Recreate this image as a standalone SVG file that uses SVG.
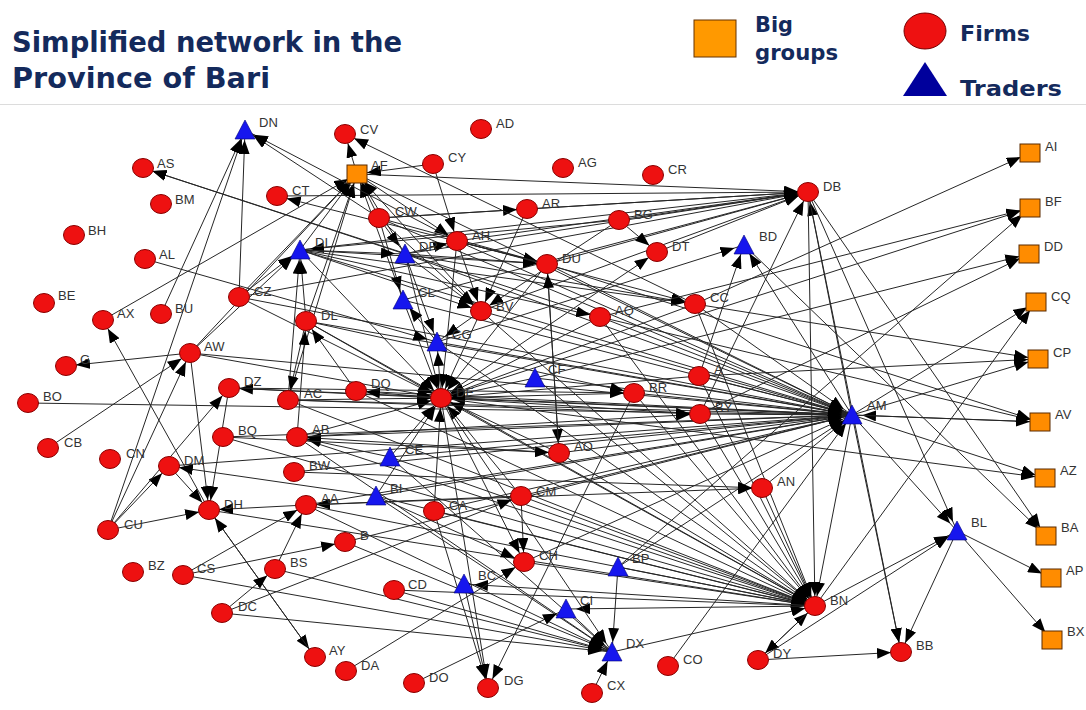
<svg xmlns="http://www.w3.org/2000/svg" width="1086" height="710" viewBox="0 0 1086 710">
<style>
.title{font-family:"DejaVu Sans","Liberation Sans",sans-serif;font-weight:bold;fill:#142a5c}
.leg{font-family:"DejaVu Sans","Liberation Sans",sans-serif;font-weight:bold;fill:#142a5c;font-size:21px}
.firm ellipse{fill:#ee1111;stroke:#8a0000;stroke-width:1}
.trader polygon{fill:#1616ee;stroke:#00007a;stroke-width:0.6}
.group rect{fill:#ff8c00;stroke:#5a2a00;stroke-width:1}
.lbl{font-family:"Liberation Sans",Arial,sans-serif;font-size:13px;fill:#333}
#connectors line{stroke:#262626;stroke-width:1;fill:none;marker-end:url(#ar)}
</style>
<defs>
<marker id="ar" markerUnits="userSpaceOnUse" markerWidth="15" markerHeight="11" refX="24" refY="5.5" orient="auto">
<path d="M0,0 L14,5.5 L0,11 z" fill="#000"/>
</marker>
</defs>
<rect width="1086" height="710" fill="#fff"/>
<g id="header">
<text class="title" x="12" y="52" font-size="29" textLength="390" lengthAdjust="spacingAndGlyphs">Simplified network in the</text>
<text class="title" x="12" y="88" font-size="29" textLength="258" lengthAdjust="spacingAndGlyphs">Province of Bari</text>
<line x1="0" y1="104.5" x2="1086" y2="104.5" stroke="#dcdcdc" stroke-width="1"/>
</g>
<g id="legend">
<rect x="694" y="20" width="42" height="37" fill="#ff9900" stroke="#663300" stroke-width="1"/>
<text class="leg" x="755" y="32" textLength="38" lengthAdjust="spacingAndGlyphs">Big</text>
<text class="leg" x="755" y="60" textLength="83" lengthAdjust="spacingAndGlyphs">groups</text>
<ellipse cx="925" cy="31" rx="21" ry="18" fill="#ee1111" stroke="#770000" stroke-width="1"/>
<text class="leg" x="960" y="41" textLength="70" lengthAdjust="spacingAndGlyphs">Firms</text>
<polygon points="925,62 903,96 947,96" fill="#00009c"/>
<text class="leg" x="960" y="96" textLength="102" lengthAdjust="spacingAndGlyphs">Traders</text>
</g>
<g id="connectors">
<line x1="441" y1="398" x2="852" y2="415"/>
<line x1="634" y1="393" x2="852" y2="415"/>
<line x1="700" y1="414" x2="852" y2="415"/>
<line x1="699" y1="376" x2="852" y2="415"/>
<line x1="535" y1="378" x2="852" y2="415"/>
<line x1="559" y1="453" x2="852" y2="415"/>
<line x1="521" y1="496" x2="852" y2="415"/>
<line x1="434" y1="511" x2="852" y2="415"/>
<line x1="306" y1="505" x2="852" y2="415"/>
<line x1="297" y1="437" x2="852" y2="415"/>
<line x1="288" y1="400" x2="852" y2="415"/>
<line x1="356" y1="391" x2="852" y2="415"/>
<line x1="390" y1="457" x2="852" y2="415"/>
<line x1="376" y1="496" x2="852" y2="415"/>
<line x1="524" y1="562" x2="852" y2="415"/>
<line x1="229" y1="388" x2="852" y2="415"/>
<line x1="190" y1="353" x2="852" y2="415"/>
<line x1="223" y1="437" x2="852" y2="415"/>
<line x1="28" y1="403" x2="852" y2="415"/>
<line x1="306" y1="321" x2="852" y2="415"/>
<line x1="239" y1="297" x2="852" y2="415"/>
<line x1="437" y1="342" x2="852" y2="415"/>
<line x1="481" y1="311" x2="852" y2="415"/>
<line x1="547" y1="264" x2="852" y2="415"/>
<line x1="600" y1="317" x2="852" y2="415"/>
<line x1="695" y1="304" x2="852" y2="415"/>
<line x1="457" y1="241" x2="852" y2="415"/>
<line x1="405" y1="254" x2="852" y2="415"/>
<line x1="300" y1="250" x2="852" y2="415"/>
<line x1="403" y1="300" x2="852" y2="415"/>
<line x1="379" y1="218" x2="852" y2="415"/>
<line x1="357" y1="174" x2="852" y2="415"/>
<line x1="1040" y1="422" x2="852" y2="415"/>
<line x1="668" y1="666" x2="852" y2="415"/>
<line x1="169" y1="466" x2="852" y2="415"/>
<line x1="294" y1="472" x2="852" y2="415"/>
<line x1="345" y1="542" x2="852" y2="415"/>
<line x1="618" y1="567" x2="852" y2="415"/>
<line x1="762" y1="488" x2="852" y2="415"/>
<line x1="852" y1="415" x2="1036" y2="302"/>
<line x1="852" y1="415" x2="1038" y2="359"/>
<line x1="852" y1="415" x2="1040" y2="422"/>
<line x1="852" y1="415" x2="1045" y2="478"/>
<line x1="852" y1="415" x2="957" y2="531"/>
<line x1="852" y1="415" x2="808" y2="192"/>
<line x1="852" y1="415" x2="815" y2="606"/>
<line x1="852" y1="415" x2="901" y2="652"/>
<line x1="852" y1="415" x2="744" y2="245"/>
<line x1="441" y1="398" x2="815" y2="606"/>
<line x1="634" y1="393" x2="815" y2="606"/>
<line x1="700" y1="414" x2="815" y2="606"/>
<line x1="535" y1="378" x2="815" y2="606"/>
<line x1="559" y1="453" x2="815" y2="606"/>
<line x1="521" y1="496" x2="815" y2="606"/>
<line x1="434" y1="511" x2="815" y2="606"/>
<line x1="306" y1="505" x2="815" y2="606"/>
<line x1="297" y1="437" x2="815" y2="606"/>
<line x1="288" y1="400" x2="815" y2="606"/>
<line x1="356" y1="391" x2="815" y2="606"/>
<line x1="390" y1="457" x2="815" y2="606"/>
<line x1="376" y1="496" x2="815" y2="606"/>
<line x1="524" y1="562" x2="815" y2="606"/>
<line x1="762" y1="488" x2="815" y2="606"/>
<line x1="699" y1="376" x2="815" y2="606"/>
<line x1="481" y1="311" x2="815" y2="606"/>
<line x1="437" y1="342" x2="815" y2="606"/>
<line x1="306" y1="321" x2="815" y2="606"/>
<line x1="600" y1="317" x2="815" y2="606"/>
<line x1="808" y1="192" x2="815" y2="606"/>
<line x1="758" y1="660" x2="815" y2="606"/>
<line x1="394" y1="590" x2="815" y2="606"/>
<line x1="209" y1="510" x2="815" y2="606"/>
<line x1="223" y1="437" x2="815" y2="606"/>
<line x1="612" y1="652" x2="815" y2="606"/>
<line x1="618" y1="567" x2="815" y2="606"/>
<line x1="695" y1="304" x2="815" y2="606"/>
<line x1="815" y1="606" x2="1036" y2="302"/>
<line x1="815" y1="606" x2="957" y2="531"/>
<line x1="815" y1="606" x2="758" y2="660"/>
<line x1="815" y1="606" x2="566" y2="609"/>
<line x1="815" y1="606" x2="464" y2="584"/>
<line x1="288" y1="400" x2="441" y2="398"/>
<line x1="481" y1="311" x2="441" y2="398"/>
<line x1="403" y1="300" x2="441" y2="398"/>
<line x1="405" y1="254" x2="441" y2="398"/>
<line x1="300" y1="250" x2="441" y2="398"/>
<line x1="306" y1="321" x2="441" y2="398"/>
<line x1="239" y1="297" x2="441" y2="398"/>
<line x1="190" y1="353" x2="441" y2="398"/>
<line x1="297" y1="437" x2="441" y2="398"/>
<line x1="390" y1="457" x2="441" y2="398"/>
<line x1="634" y1="393" x2="441" y2="398"/>
<line x1="600" y1="317" x2="441" y2="398"/>
<line x1="695" y1="304" x2="441" y2="398"/>
<line x1="547" y1="264" x2="441" y2="398"/>
<line x1="457" y1="241" x2="441" y2="398"/>
<line x1="535" y1="378" x2="441" y2="398"/>
<line x1="700" y1="414" x2="441" y2="398"/>
<line x1="699" y1="376" x2="441" y2="398"/>
<line x1="434" y1="511" x2="441" y2="398"/>
<line x1="559" y1="453" x2="441" y2="398"/>
<line x1="521" y1="496" x2="441" y2="398"/>
<line x1="376" y1="496" x2="441" y2="398"/>
<line x1="441" y1="398" x2="1045" y2="478"/>
<line x1="441" y1="398" x2="1030" y2="208"/>
<line x1="441" y1="398" x2="657" y2="252"/>
<line x1="441" y1="398" x2="488" y2="688"/>
<line x1="441" y1="398" x2="612" y2="652"/>
<line x1="441" y1="398" x2="229" y2="388"/>
<line x1="441" y1="398" x2="524" y2="562"/>
<line x1="441" y1="398" x2="437" y2="342"/>
<line x1="441" y1="398" x2="356" y2="391"/>
<line x1="277" y1="196" x2="808" y2="192"/>
<line x1="527" y1="209" x2="808" y2="192"/>
<line x1="619" y1="220" x2="808" y2="192"/>
<line x1="357" y1="174" x2="808" y2="192"/>
<line x1="547" y1="264" x2="808" y2="192"/>
<line x1="405" y1="254" x2="808" y2="192"/>
<line x1="457" y1="241" x2="808" y2="192"/>
<line x1="300" y1="250" x2="808" y2="192"/>
<line x1="379" y1="218" x2="808" y2="192"/>
<line x1="700" y1="414" x2="808" y2="192"/>
<line x1="403" y1="300" x2="808" y2="192"/>
<line x1="239" y1="297" x2="808" y2="192"/>
<line x1="657" y1="252" x2="808" y2="192"/>
<line x1="481" y1="311" x2="808" y2="192"/>
<line x1="808" y1="192" x2="1046" y2="536"/>
<line x1="808" y1="192" x2="901" y2="652"/>
<line x1="808" y1="192" x2="957" y2="531"/>
<line x1="957" y1="531" x2="1051" y2="578"/>
<line x1="957" y1="531" x2="1052" y2="640"/>
<line x1="957" y1="531" x2="901" y2="652"/>
<line x1="758" y1="660" x2="957" y2="531"/>
<line x1="394" y1="590" x2="612" y2="652"/>
<line x1="222" y1="613" x2="612" y2="652"/>
<line x1="183" y1="575" x2="612" y2="652"/>
<line x1="275" y1="569" x2="612" y2="652"/>
<line x1="390" y1="457" x2="612" y2="652"/>
<line x1="376" y1="496" x2="612" y2="652"/>
<line x1="566" y1="609" x2="612" y2="652"/>
<line x1="618" y1="567" x2="612" y2="652"/>
<line x1="592" y1="693" x2="612" y2="652"/>
<line x1="306" y1="505" x2="612" y2="652"/>
<line x1="345" y1="542" x2="612" y2="652"/>
<line x1="297" y1="437" x2="612" y2="652"/>
<line x1="379" y1="218" x2="357" y2="174"/>
<line x1="300" y1="250" x2="357" y2="174"/>
<line x1="239" y1="297" x2="357" y2="174"/>
<line x1="306" y1="321" x2="357" y2="174"/>
<line x1="405" y1="254" x2="357" y2="174"/>
<line x1="403" y1="300" x2="357" y2="174"/>
<line x1="433" y1="164" x2="357" y2="174"/>
<line x1="190" y1="353" x2="357" y2="174"/>
<line x1="288" y1="400" x2="357" y2="174"/>
<line x1="481" y1="311" x2="357" y2="174"/>
<line x1="103" y1="320" x2="357" y2="174"/>
<line x1="357" y1="174" x2="345" y2="134"/>
<line x1="357" y1="174" x2="457" y2="241"/>
<line x1="433" y1="164" x2="457" y2="241"/>
<line x1="379" y1="218" x2="527" y2="209"/>
<line x1="379" y1="218" x2="405" y2="254"/>
<line x1="379" y1="218" x2="403" y2="300"/>
<line x1="379" y1="218" x2="481" y2="311"/>
<line x1="379" y1="218" x2="547" y2="264"/>
<line x1="379" y1="218" x2="245" y2="130"/>
<line x1="527" y1="209" x2="481" y2="311"/>
<line x1="619" y1="220" x2="657" y2="252"/>
<line x1="619" y1="220" x2="481" y2="311"/>
<line x1="619" y1="220" x2="300" y2="250"/>
<line x1="405" y1="254" x2="143" y2="168"/>
<line x1="600" y1="317" x2="143" y2="168"/>
<line x1="405" y1="254" x2="481" y2="311"/>
<line x1="405" y1="254" x2="695" y2="304"/>
<line x1="405" y1="254" x2="437" y2="342"/>
<line x1="405" y1="254" x2="547" y2="264"/>
<line x1="405" y1="254" x2="457" y2="241"/>
<line x1="300" y1="250" x2="547" y2="264"/>
<line x1="300" y1="250" x2="695" y2="304"/>
<line x1="300" y1="250" x2="600" y2="317"/>
<line x1="300" y1="250" x2="481" y2="311"/>
<line x1="300" y1="250" x2="405" y2="254"/>
<line x1="239" y1="297" x2="300" y2="250"/>
<line x1="306" y1="321" x2="300" y2="250"/>
<line x1="288" y1="400" x2="300" y2="250"/>
<line x1="190" y1="353" x2="300" y2="250"/>
<line x1="457" y1="241" x2="547" y2="264"/>
<line x1="457" y1="241" x2="481" y2="311"/>
<line x1="457" y1="241" x2="695" y2="304"/>
<line x1="457" y1="241" x2="245" y2="130"/>
<line x1="695" y1="304" x2="345" y2="134"/>
<line x1="695" y1="304" x2="1030" y2="153"/>
<line x1="695" y1="304" x2="1038" y2="359"/>
<line x1="600" y1="317" x2="1030" y2="208"/>
<line x1="600" y1="317" x2="1040" y2="422"/>
<line x1="535" y1="378" x2="1029" y2="254"/>
<line x1="700" y1="414" x2="1029" y2="254"/>
<line x1="699" y1="376" x2="1038" y2="359"/>
<line x1="547" y1="264" x2="559" y2="453"/>
<line x1="559" y1="453" x2="547" y2="264"/>
<line x1="699" y1="376" x2="744" y2="245"/>
<line x1="437" y1="342" x2="744" y2="245"/>
<line x1="744" y1="245" x2="1046" y2="536"/>
<line x1="634" y1="393" x2="488" y2="688"/>
<line x1="434" y1="511" x2="488" y2="688"/>
<line x1="464" y1="584" x2="488" y2="688"/>
<line x1="521" y1="496" x2="524" y2="562"/>
<line x1="376" y1="496" x2="524" y2="562"/>
<line x1="414" y1="683" x2="566" y2="609"/>
<line x1="346" y1="671" x2="524" y2="562"/>
<line x1="209" y1="510" x2="315" y2="657"/>
<line x1="315" y1="657" x2="209" y2="510"/>
<line x1="222" y1="613" x2="275" y2="569"/>
<line x1="222" y1="613" x2="521" y2="496"/>
<line x1="183" y1="575" x2="345" y2="542"/>
<line x1="183" y1="575" x2="306" y2="505"/>
<line x1="275" y1="569" x2="306" y2="505"/>
<line x1="108" y1="530" x2="209" y2="510"/>
<line x1="108" y1="530" x2="169" y2="466"/>
<line x1="108" y1="530" x2="245" y2="130"/>
<line x1="108" y1="530" x2="190" y2="353"/>
<line x1="108" y1="530" x2="229" y2="388"/>
<line x1="169" y1="466" x2="209" y2="510"/>
<line x1="209" y1="510" x2="103" y2="320"/>
<line x1="161" y1="314" x2="245" y2="130"/>
<line x1="239" y1="297" x2="245" y2="130"/>
<line x1="190" y1="353" x2="66" y2="366"/>
<line x1="48" y1="448" x2="190" y2="353"/>
<line x1="190" y1="353" x2="209" y2="510"/>
<line x1="229" y1="388" x2="209" y2="510"/>
<line x1="145" y1="259" x2="437" y2="342"/>
<line x1="758" y1="660" x2="901" y2="652"/>
<line x1="547" y1="264" x2="277" y2="196"/>
<line x1="547" y1="264" x2="1040" y2="422"/>
<line x1="618" y1="567" x2="1030" y2="208"/>
<line x1="376" y1="496" x2="169" y2="466"/>
<line x1="306" y1="505" x2="209" y2="510"/>
<line x1="521" y1="496" x2="306" y2="505"/>
<line x1="390" y1="457" x2="297" y2="437"/>
<line x1="559" y1="453" x2="297" y2="437"/>
<line x1="306" y1="321" x2="288" y2="400"/>
<line x1="297" y1="437" x2="306" y2="321"/>
<line x1="356" y1="391" x2="306" y2="321"/>
<line x1="481" y1="311" x2="437" y2="342"/>
<line x1="437" y1="342" x2="403" y2="300"/>
<line x1="288" y1="400" x2="700" y2="414"/>
<line x1="229" y1="388" x2="634" y2="393"/>
<line x1="306" y1="321" x2="634" y2="393"/>
<line x1="297" y1="437" x2="700" y2="414"/>
<line x1="223" y1="437" x2="559" y2="453"/>
<line x1="294" y1="472" x2="762" y2="488"/>
<line x1="306" y1="505" x2="762" y2="488"/>
</g>
<g id="nodes">
<g id="AS" class="firm"><ellipse cx="143" cy="168" rx="10.5" ry="9.5"/><text class="lbl" x="157" y="168">AS</text></g>
<g id="BM" class="firm"><ellipse cx="161" cy="204" rx="10.5" ry="9.5"/><text class="lbl" x="175" y="204">BM</text></g>
<g id="BH" class="firm"><ellipse cx="74" cy="235" rx="10.5" ry="9.5"/><text class="lbl" x="88" y="235">BH</text></g>
<g id="AL" class="firm"><ellipse cx="145" cy="259" rx="10.5" ry="9.5"/><text class="lbl" x="159" y="259">AL</text></g>
<g id="BE" class="firm"><ellipse cx="44" cy="303" rx="10.5" ry="9.5"/><text class="lbl" x="58" y="300">BE</text></g>
<g id="AX" class="firm"><ellipse cx="103" cy="320" rx="10.5" ry="9.5"/><text class="lbl" x="117" y="318">AX</text></g>
<g id="BU" class="firm"><ellipse cx="161" cy="314" rx="10.5" ry="9.5"/><text class="lbl" x="175" y="313">BU</text></g>
<g id="G" class="firm"><ellipse cx="66" cy="366" rx="10.5" ry="9.5"/><text class="lbl" x="80" y="364">G</text></g>
<g id="AW" class="firm"><ellipse cx="190" cy="353" rx="10.5" ry="9.5"/><text class="lbl" x="204" y="351">AW</text></g>
<g id="BO" class="firm"><ellipse cx="28" cy="403" rx="10.5" ry="9.5"/><text class="lbl" x="43" y="401">BO</text></g>
<g id="DZ" class="firm"><ellipse cx="229" cy="388" rx="10.5" ry="9.5"/><text class="lbl" x="244" y="386">DZ</text></g>
<g id="CB" class="firm"><ellipse cx="48" cy="448" rx="10.5" ry="9.5"/><text class="lbl" x="64" y="447">CB</text></g>
<g id="CN" class="firm"><ellipse cx="110" cy="459" rx="10.5" ry="9.5"/><text class="lbl" x="126" y="458">CN</text></g>
<g id="BQ" class="firm"><ellipse cx="223" cy="437" rx="10.5" ry="9.5"/><text class="lbl" x="238" y="435">BQ</text></g>
<g id="DM" class="firm"><ellipse cx="169" cy="466" rx="10.5" ry="9.5"/><text class="lbl" x="184" y="465">DM</text></g>
<g id="CU" class="firm"><ellipse cx="108" cy="530" rx="10.5" ry="9.5"/><text class="lbl" x="124" y="529">CU</text></g>
<g id="DH" class="firm"><ellipse cx="209" cy="510" rx="10.5" ry="9.5"/><text class="lbl" x="224" y="509">DH</text></g>
<g id="BZ" class="firm"><ellipse cx="133" cy="572" rx="10.5" ry="9.5"/><text class="lbl" x="148" y="570">BZ</text></g>
<g id="CS" class="firm"><ellipse cx="183" cy="575" rx="10.5" ry="9.5"/><text class="lbl" x="197" y="573">CS</text></g>
<g id="DC" class="firm"><ellipse cx="222" cy="613" rx="10.5" ry="9.5"/><text class="lbl" x="238" y="611">DC</text></g>
<g id="BS" class="firm"><ellipse cx="275" cy="569" rx="10.5" ry="9.5"/><text class="lbl" x="290" y="567">BS</text></g>
<g id="AY" class="firm"><ellipse cx="315" cy="657" rx="10.5" ry="9.5"/><text class="lbl" x="329" y="655">AY</text></g>
<g id="DA" class="firm"><ellipse cx="346" cy="671" rx="10.5" ry="9.5"/><text class="lbl" x="361" y="670">DA</text></g>
<g id="B" class="firm"><ellipse cx="345" cy="542" rx="10.5" ry="9.5"/><text class="lbl" x="360" y="540">B</text></g>
<g id="AA" class="firm"><ellipse cx="306" cy="505" rx="10.5" ry="9.5"/><text class="lbl" x="321" y="503">AA</text></g>
<g id="BW" class="firm"><ellipse cx="294" cy="472" rx="10.5" ry="9.5"/><text class="lbl" x="309" y="470">BW</text></g>
<g id="AB" class="firm"><ellipse cx="297" cy="437" rx="10.5" ry="9.5"/><text class="lbl" x="312" y="434">AB</text></g>
<g id="AC" class="firm"><ellipse cx="288" cy="400" rx="10.5" ry="9.5"/><text class="lbl" x="304" y="398">AC</text></g>
<g id="DQ" class="firm"><ellipse cx="356" cy="391" rx="10.5" ry="9.5"/><text class="lbl" x="371" y="388">DQ</text></g>
<g id="CZ" class="firm"><ellipse cx="239" cy="297" rx="10.5" ry="9.5"/><text class="lbl" x="254" y="296">CZ</text></g>
<g id="DL" class="firm"><ellipse cx="306" cy="321" rx="10.5" ry="9.5"/><text class="lbl" x="321" y="320">DL</text></g>
<g id="CT" class="firm"><ellipse cx="277" cy="196" rx="10.5" ry="9.5"/><text class="lbl" x="292" y="195">CT</text></g>
<g id="CV" class="firm"><ellipse cx="345" cy="134" rx="10.5" ry="9.5"/><text class="lbl" x="360" y="134">CV</text></g>
<g id="CW" class="firm"><ellipse cx="379" cy="218" rx="10.5" ry="9.5"/><text class="lbl" x="395" y="216">CW</text></g>
<g id="CY" class="firm"><ellipse cx="433" cy="164" rx="10.5" ry="9.5"/><text class="lbl" x="448" y="162">CY</text></g>
<g id="AD" class="firm"><ellipse cx="481" cy="129" rx="10.5" ry="9.5"/><text class="lbl" x="496" y="128">AD</text></g>
<g id="AH" class="firm"><ellipse cx="457" cy="241" rx="10.5" ry="9.5"/><text class="lbl" x="472" y="240">AH</text></g>
<g id="AR" class="firm"><ellipse cx="527" cy="209" rx="10.5" ry="9.5"/><text class="lbl" x="542" y="208">AR</text></g>
<g id="AG" class="firm"><ellipse cx="563" cy="168" rx="10.5" ry="9.5"/><text class="lbl" x="578" y="167">AG</text></g>
<g id="CR" class="firm"><ellipse cx="653" cy="175" rx="10.5" ry="9.5"/><text class="lbl" x="668" y="174">CR</text></g>
<g id="BG" class="firm"><ellipse cx="619" cy="220" rx="10.5" ry="9.5"/><text class="lbl" x="634" y="219">BG</text></g>
<g id="DT" class="firm"><ellipse cx="657" cy="252" rx="10.5" ry="9.5"/><text class="lbl" x="672" y="251">DT</text></g>
<g id="DU" class="firm"><ellipse cx="547" cy="264" rx="10.5" ry="9.5"/><text class="lbl" x="562" y="263">DU</text></g>
<g id="BV" class="firm"><ellipse cx="481" cy="311" rx="10.5" ry="9.5"/><text class="lbl" x="496" y="311">BV</text></g>
<g id="AQ" class="firm"><ellipse cx="600" cy="317" rx="10.5" ry="9.5"/><text class="lbl" x="615" y="315">AQ</text></g>
<g id="CC" class="firm"><ellipse cx="695" cy="304" rx="10.5" ry="9.5"/><text class="lbl" x="710" y="302">CC</text></g>
<g id="DB" class="firm"><ellipse cx="808" cy="192" rx="10.5" ry="9.5"/><text class="lbl" x="823" y="191">DB</text></g>
<g id="A" class="firm"><ellipse cx="699" cy="376" rx="10.5" ry="9.5"/><text class="lbl" x="714" y="374">A</text></g>
<g id="BR" class="firm"><ellipse cx="634" cy="393" rx="10.5" ry="9.5"/><text class="lbl" x="649" y="392">BR</text></g>
<g id="BY" class="firm"><ellipse cx="700" cy="414" rx="10.5" ry="9.5"/><text class="lbl" x="715" y="412">BY</text></g>
<g id="DF" class="firm"><ellipse cx="441" cy="398" rx="10.5" ry="9.5"/><text class="lbl" x="456" y="397">DF</text></g>
<g id="AO" class="firm"><ellipse cx="559" cy="453" rx="10.5" ry="9.5"/><text class="lbl" x="574" y="451">AO</text></g>
<g id="CM" class="firm"><ellipse cx="521" cy="496" rx="10.5" ry="9.5"/><text class="lbl" x="536" y="496">CM</text></g>
<g id="CA" class="firm"><ellipse cx="434" cy="511" rx="10.5" ry="9.5"/><text class="lbl" x="449" y="510">CA</text></g>
<g id="AN" class="firm"><ellipse cx="762" cy="488" rx="10.5" ry="9.5"/><text class="lbl" x="777" y="486">AN</text></g>
<g id="CH" class="firm"><ellipse cx="524" cy="562" rx="10.5" ry="9.5"/><text class="lbl" x="539" y="560">CH</text></g>
<g id="CD" class="firm"><ellipse cx="394" cy="590" rx="10.5" ry="9.5"/><text class="lbl" x="408" y="589">CD</text></g>
<g id="DO" class="firm"><ellipse cx="414" cy="683" rx="10.5" ry="9.5"/><text class="lbl" x="429" y="682">DO</text></g>
<g id="DG" class="firm"><ellipse cx="488" cy="688" rx="10.5" ry="9.5"/><text class="lbl" x="504" y="685">DG</text></g>
<g id="CX" class="firm"><ellipse cx="592" cy="693" rx="10.5" ry="9.5"/><text class="lbl" x="607" y="690">CX</text></g>
<g id="CO" class="firm"><ellipse cx="668" cy="666" rx="10.5" ry="9.5"/><text class="lbl" x="683" y="664">CO</text></g>
<g id="BN" class="firm"><ellipse cx="815" cy="606" rx="10.5" ry="9.5"/><text class="lbl" x="830" y="605">BN</text></g>
<g id="DY" class="firm"><ellipse cx="758" cy="660" rx="10.5" ry="9.5"/><text class="lbl" x="773" y="658">DY</text></g>
<g id="BB" class="firm"><ellipse cx="901" cy="652" rx="10.5" ry="9.5"/><text class="lbl" x="916" y="650">BB</text></g>
<g id="DN" class="trader"><polygon points="245,120 235,139 255,139"/><text class="lbl" x="259" y="127">DN</text></g>
<g id="DI" class="trader"><polygon points="300,240 290,259 310,259"/><text class="lbl" x="315" y="247">DI</text></g>
<g id="DR" class="trader"><polygon points="405,244 395,263 415,263"/><text class="lbl" x="419" y="251">DR</text></g>
<g id="CL" class="trader"><polygon points="403,290 393,309 413,309"/><text class="lbl" x="418" y="297">CL</text></g>
<g id="CG" class="trader"><polygon points="437,332 427,351 447,351"/><text class="lbl" x="452" y="339">CG</text></g>
<g id="CF" class="trader"><polygon points="535,368 525,387 545,387"/><text class="lbl" x="548" y="374">CF</text></g>
<g id="BD" class="trader"><polygon points="744,235 734,254 754,254"/><text class="lbl" x="759" y="241">BD</text></g>
<g id="AM" class="trader"><polygon points="852,405 842,424 862,424"/><text class="lbl" x="867" y="410">AM</text></g>
<g id="CE" class="trader"><polygon points="390,447 380,466 400,466"/><text class="lbl" x="405" y="454">CE</text></g>
<g id="BI" class="trader"><polygon points="376,486 366,505 386,505"/><text class="lbl" x="390" y="493">BI</text></g>
<g id="BC" class="trader"><polygon points="464,574 454,593 474,593"/><text class="lbl" x="478" y="580">BC</text></g>
<g id="BP" class="trader"><polygon points="618,557 608,576 628,576"/><text class="lbl" x="632" y="563">BP</text></g>
<g id="CI" class="trader"><polygon points="566,599 556,618 576,618"/><text class="lbl" x="580" y="605">CI</text></g>
<g id="DX" class="trader"><polygon points="612,642 602,661 622,661"/><text class="lbl" x="626" y="648">DX</text></g>
<g id="BL" class="trader"><polygon points="957,521 947,540 967,540"/><text class="lbl" x="971" y="527">BL</text></g>
<g id="AF" class="group"><rect x="347" y="165" width="20" height="18"/><text class="lbl" x="371" y="170">AF</text></g>
<g id="AI" class="group"><rect x="1020" y="144" width="20" height="18"/><text class="lbl" x="1045" y="151">AI</text></g>
<g id="BF" class="group"><rect x="1020" y="199" width="20" height="18"/><text class="lbl" x="1045" y="206">BF</text></g>
<g id="DD" class="group"><rect x="1019" y="245" width="20" height="18"/><text class="lbl" x="1044" y="251">DD</text></g>
<g id="CQ" class="group"><rect x="1026" y="293" width="20" height="18"/><text class="lbl" x="1051" y="301">CQ</text></g>
<g id="CP" class="group"><rect x="1028" y="350" width="20" height="18"/><text class="lbl" x="1053" y="357">CP</text></g>
<g id="AV" class="group"><rect x="1030" y="413" width="20" height="18"/><text class="lbl" x="1055" y="419">AV</text></g>
<g id="AZ" class="group"><rect x="1035" y="469" width="20" height="18"/><text class="lbl" x="1060" y="475">AZ</text></g>
<g id="BA" class="group"><rect x="1036" y="527" width="20" height="18"/><text class="lbl" x="1061" y="532">BA</text></g>
<g id="AP" class="group"><rect x="1041" y="569" width="20" height="18"/><text class="lbl" x="1066" y="575">AP</text></g>
<g id="BX" class="group"><rect x="1042" y="631" width="20" height="18"/><text class="lbl" x="1067" y="636">BX</text></g>
</g>
</svg>
